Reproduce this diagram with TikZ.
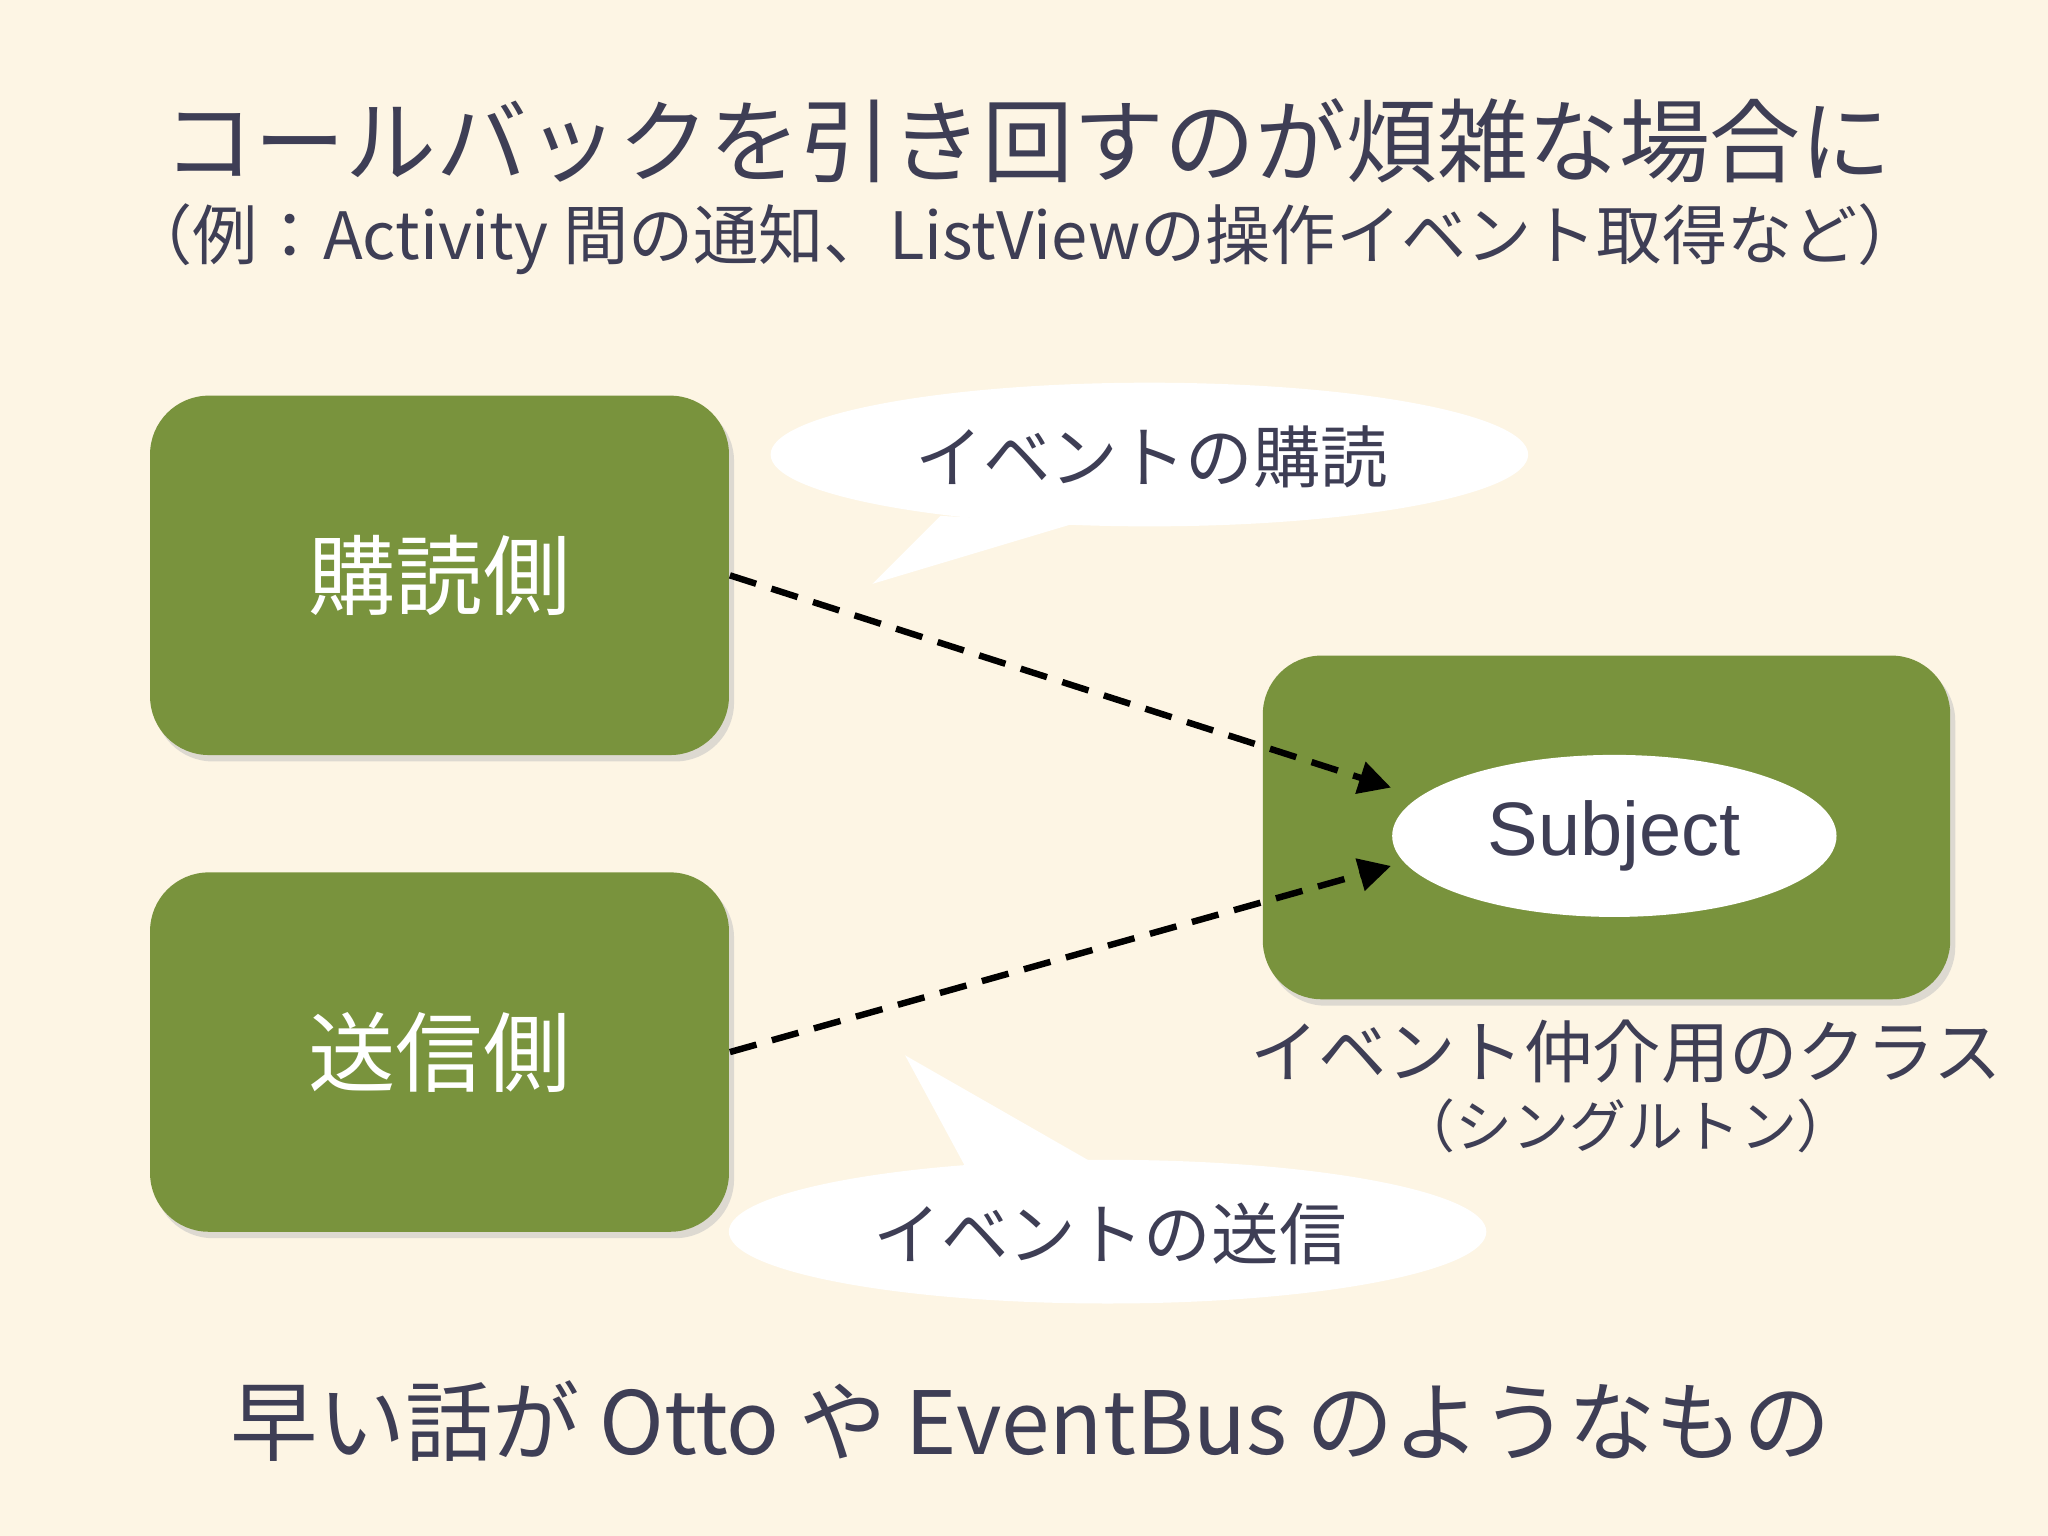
\documentclass[tikz,border=0pt]{standalone}
\usepackage{fontspec}
\setmainfont{Noto Sans CJK JP}
\newfontfamily\subjfont{Liberation Sans}
\usetikzlibrary{arrows.meta,shapes.geometric}
\definecolor{bg}{HTML}{FDF5E4}
\definecolor{boxg}{HTML}{79933D}
\definecolor{ink}{HTML}{3E3E55}
\tikzset{
  gbox/.style={draw=none,fill=boxg,rounded corners=0.45cm,minimum width=4.43cm,minimum height=2.75cm,text=white,font=\fontsize{19}{22}\selectfont},
  bubble/.style={fill=white,draw=none},
  darrow/.style={draw=black,line width=1.4pt,dash pattern=on 6pt off 3.5pt,-{Triangle[length=7pt,width=7pt]}},
  txt/.style={text=ink,inner sep=0pt}
}
\begin{document}
\begin{tikzpicture}[x=0.01cm,y=-0.01cm]
\fill[bg] (0,0) rectangle (1568,1176);
\useasboundingbox (0,0) rectangle (1568,1176);
\node[txt,font=\fontsize{19.8}{24}\selectfont] (t1) at (787,108) {コールバックを引き回すのが煩雑な場合に};
\node[txt,font=\fontsize{14.2}{17}\selectfont] (t2) at (785,183) {（例：Activity 間の通知、ListViewの操作イベント取得など）};
% callout bubbles
\fill[bubble] (880,348) ellipse (290 and 55);
\fill[bubble] (720,395) -- (668,447) -- (825,400) -- cycle;
\node[txt,font=\fontsize{14.7}{17}\selectfont] (c1) at (882,350) {イベントの購読};
\fill[bubble] (848,943) ellipse (290 and 55);
\fill[bubble] (740,895) -- (693,808) -- (845,895) -- cycle;
\node[txt,font=\fontsize{14.7}{17}\selectfont] (c2) at (850,945) {イベントの送信};
% boxes
\fill[black!25,opacity=0.5,rounded corners=0.45cm] (118,308) rectangle (562,583);
\fill[black!25,opacity=0.5,rounded corners=0.45cm] (118,673) rectangle (562,948);
\fill[black!25,opacity=0.5,rounded corners=0.45cm] (970,507) rectangle (1497,770);
\node[gbox] (sub) at (336.5,440.5) {購読側};
\node[gbox] (snd) at (336.5,805.5) {送信側};
\node[gbox,minimum width=5.26cm,minimum height=2.63cm] (mid) at (1230,633.5) {};
\node[ellipse,fill=white,minimum width=3.4cm,minimum height=1.24cm,inner sep=0pt,text=ink,font=\subjfont\fontsize{16.5}{19}\selectfont] (subj) at (1236,640) {Subject};
\coordinate (e1) at (1065,603);
\coordinate (e2) at (1065,663);
\draw[darrow] (sub.east) -- (e1);
\draw[darrow] (snd.east) -- (e2);
\node[txt,font=\fontsize{14.9}{17}\selectfont] (l1) at (1245,805) {イベント仲介用のクラス};
\node[txt,font=\fontsize{12.4}{15}\selectfont] (l2) at (1245,862) {（シングルトン）};
\node[txt,font=\fontsize{19}{22}\selectfont] (bt) at (789,1088) {早い話が Otto や EventBus のようなもの};
\end{tikzpicture}
\end{document}
